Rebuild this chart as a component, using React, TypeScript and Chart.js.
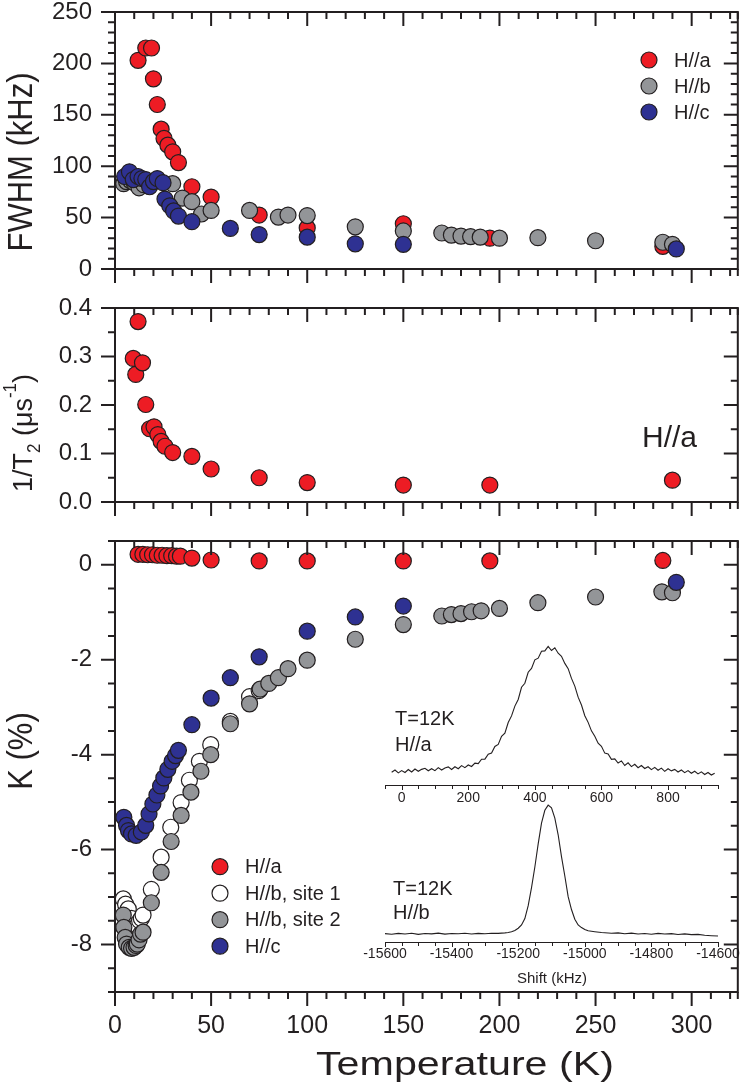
// ============================================
// NMR linewidth / relaxation / Knight shift vs temperature
// ============================================

import React, { useEffect, useRef } from 'react';
import { Chart, registerables } from 'chart.js';

Chart.register(...registerables);

const PAGE_W = 747;
const PAGE_H = 1092;
const Y_AXIS_W = 100;
const X_AXIS_H = 60;
const X_MAX = 324;

const FONT = "'Liberation Sans', Arial, Helvetica, sans-serif";
const INK = '#231F20';
const RED = '#ED1C24';
const GRAY = '#939598';
const BLUE = '#2E3192';
const WHITE = '#FFFFFF';

Chart.defaults.font.family = FONT;
Chart.defaults.color = INK;

// ---------- FWHM (kHz) ----------
const fwhmTempA = [12, 16, 19, 20, 22, 24, 25.5, 27.5, 30, 33, 40, 50, 75, 100, 150, 195, 285];
const fwhmA = [203, 215, 215, 185, 160, 136, 127, 120.5, 114, 103.5, 80, 70, 52.5, 40, 44, 30, 22];

const fwhmTempB = [4.5, 6, 8, 10, 12.5, 15, 30, 35, 40, 45, 50, 70, 85, 90, 100, 125, 150, 170, 175, 180, 185, 190, 200, 220, 250, 285, 290];
const fwhmB = [83, 85, 86, 84, 79, 82, 83, 69, 65.5, 53.5, 57, 57, 50.5, 52.5, 52, 41, 37, 35, 33, 32, 31.5, 31, 30, 30.5, 27.5, 26, 24];

const fwhmTempC = [5, 7.5, 9.5, 12, 14, 16, 18, 20, 22, 25, 26, 28.5, 30.5, 33, 40, 60, 75, 100, 125, 150, 292];
const fwhmC = [90, 94.5, 87, 90, 88, 87, 80, 85, 88, 84, 68, 61.5, 56.5, 51.5, 46, 39.5, 33.5, 31, 24.5, 24, 19.5];

// ---------- 1/T2 (us^-1), H//a ----------
const t2Temp = [9.5, 10.8, 12, 14.3, 16, 18, 20.3, 22.3, 24, 26, 30, 40, 50, 75, 100, 150, 195, 290];
const t2Rate = [0.296, 0.263, 0.372, 0.287, 0.201, 0.151, 0.155, 0.139, 0.125, 0.115, 0.102, 0.094, 0.068, 0.05, 0.04, 0.035, 0.035, 0.045];

// ---------- K (%) ----------
const kTempA = [12, 14.5, 17, 19.5, 22, 24.5, 27, 29.5, 32, 34, 40, 50, 75, 100, 150, 195, 285];
const kA = [0.22, 0.22, 0.21, 0.21, 0.2, 0.2, 0.19, 0.19, 0.18, 0.18, 0.14, 0.1, 0.08, 0.08, 0.08, 0.08, 0.09];

const kTempB1 = [4.3, 5.5, 6.9, 8.5, 10, 11.5, 12.8, 13.7, 14.6, 18.9, 24, 29, 34.4, 38.7, 43.9, 49.8, 60, 70, 75];
const kB1 = [-7.04, -7.15, -7.25, -7.45, -7.6, -7.6, -7.5, -7.45, -7.38, -6.84, -6.16, -5.53, -5.01, -4.54, -4.14, -3.79, -3.3, -2.78, -2.65];

const kTempB2 = [4.3, 4.6, 5.3, 6, 7.4, 8.6, 9.9, 11, 11.6, 12.5, 13.3, 14.6, 18.9, 24, 29.2, 34.4, 39.5, 44.7, 49.8, 60, 70, 75.5, 80, 85, 90, 100, 125, 150, 170, 175, 180, 185.5, 190.5, 200, 220, 250, 284.5, 290];
const kB2 = [-7.38, -7.64, -7.85, -7.99, -8.06, -8.08, -8.06, -8.02, -7.99, -7.9, -7.78, -7.74, -7.12, -6.48, -5.83, -5.28, -4.79, -4.35, -4, -3.35, -2.93, -2.62, -2.5, -2.38, -2.19, -2.01, -1.57, -1.26, -1.08, -1.05, -1.03, -0.99, -0.97, -0.92, -0.8, -0.68, -0.57, -0.59];

const kTempC = [4.6, 6, 7, 8.6, 11, 13.7, 16, 17.7, 19.7, 21.8, 23.7, 25.4, 27.5, 29.7, 31.5, 33, 40, 50, 60, 75, 100, 125, 150, 292];
const kC = [-5.32, -5.49, -5.6, -5.67, -5.7, -5.63, -5.49, -5.25, -5.04, -4.85, -4.66, -4.49, -4.31, -4.14, -4.02, -3.91, -3.37, -2.81, -2.38, -1.94, -1.4, -1.1, -0.87, -0.37];

// ---------- inset spectra, T = 12 K ----------
const specAShift = [
  -30, -20, -10, 0, 10, 20, 30, 40, 50, 60,
  70, 80, 90, 100, 110, 120, 130, 140, 150, 160,
  170, 180, 190, 200, 210, 220, 230, 240, 250, 260,
  270, 280, 290, 300, 310, 320, 330, 340, 350, 360,
  370, 380, 390, 400, 410, 420, 430, 440, 450, 460,
  470, 480, 490, 500, 510, 520, 530, 540, 550, 560,
  570, 580, 590, 600, 610, 620, 630, 640, 650, 660,
  670, 680, 690, 700, 710, 720, 730, 740, 750, 760,
  770, 780, 790, 800, 810, 820, 830, 840, 850, 860,
  870, 880, 890, 900, 910, 920, 930, 940,
];
const specA = [
  -1, 0.8, -1.5, 0.3, -1.2, 1.2, -0.8, 1.6, -0.2, 1.3,
  2.2, 0.2, 1.8, 0.3, 2.7, 0.8, 2.4, 3.3, 1.2, 3.4,
  1.8, 4.3, 2.7, 4.8, 3.6, 6.3, 5.9, 9.4, 9.5, 13.5,
  14.4, 19.6, 21.3, 27.8, 30.2, 38.8, 44.1, 51.9, 57.2, 67,
  70.2, 79, 82.1, 88.9, 90.3, 95.8, 96.1, 99.6, 96.4, 98.6,
  94.2, 91.8, 86.1, 81.9, 74.1, 67.9, 59.1, 52.8, 44.2, 38.9,
  32.1, 27.8, 22.2, 19.8, 14.3, 13.7, 9.3, 9.7, 6.4, 8.1,
  4.4, 6.5, 3.5, 5.4, 2.6, 4.4, 2, 3.4, 1.1, 2.9,
  0.6, 2.3, -0.3, 1.8, 0.1, 1.3, -0.8, 0.8, -1.3, 0.3,
  -1.8, -0.2, -2.3, -0.7, -2.8, -1.2, -3.2, -1.8,
];

const specBShift = [
  -15600, -15580, -15560, -15540, -15520, -15500, -15480, -15460, -15440, -15420,
  -15400, -15380, -15360, -15340, -15320, -15300, -15280, -15260, -15240, -15230,
  -15220, -15210, -15200, -15190, -15180, -15170, -15160, -15150, -15140, -15130,
  -15120, -15110, -15100, -15090, -15080, -15070, -15060, -15050, -15040, -15030,
  -15020, -15010, -15000, -14990, -14970, -14950, -14920, -14900, -14880, -14860,
  -14840, -14820, -14800, -14780, -14760, -14740, -14720, -14700, -14680, -14660,
  -14640, -14620, -14600,
];
const specB = [
  0.3, -0.2, 0.5, 0, 0.6, -0.3, 0.4, 0.1, 0.7, -0.1,
  0.4, 0.2, 0.6, 0, 0.5, 0.2, 0.6, 0.5, 0.9, 1.2,
  1.8, 2.8, 4.5, 7, 12, 22, 36, 52, 70, 86,
  96, 100, 98, 90, 77, 60, 45, 29, 19, 11.5,
  7, 5, 3.5, 2.5, 1.8, 1.2, 0.6, 0.9, 0.2, 0.7,
  0, 0.4, -0.2, 0.5, 0, 0.3, -0.4, 0.1, -0.5, -0.3,
  -1, -1.3, -1.6,
];

// plot areas on the page (px)
const TOP = { left: 115, right: 745, top: 12, bottom: 269 };
const MID = { left: 115, right: 745, top: 308, bottom: 502 };
const BOT = { left: 115, right: 745, top: 541, bottom: 992 };
const INSET_A = { left: 385, right: 718, top: 640, bottom: 785 };
const INSET_B = { left: 385, right: 718, top: 800, bottom: 942 };

const pts = (xs: number[], ys: number[]) => xs.map((x, i) => ({ x, y: ys[i] }));
const isMajor = (v: number, step: number) => Math.abs(v / step - Math.round(v / step)) < 1e-6;

const padFor = (r: any, leftBox: number, bottomBox: number) => ({
  left: r.left - leftBox,
  right: PAGE_W - r.right,
  top: r.top,
  bottom: PAGE_H - r.bottom - bottomBox,
});

// force the axis box size so every panel lines up
const fixBox = (width?: number, height?: number) => (s: any) => {
  if (width !== undefined) s.width = width;
  if (height !== undefined) s.height = height;
  s.paddingTop = 0;
  s.paddingBottom = 0;
  s.paddingLeft = 0;
  s.paddingRight = 0;
};

// ---------- plugins ----------
type Part = { t: string; size: number; dy?: number };
type Label = { x: number; y: number; parts: Part[]; align?: 'left' | 'center'; rotate?: boolean; sx?: number };

function drawLabel(ctx: CanvasRenderingContext2D, l: Label) {
  ctx.save();
  ctx.translate(l.x, l.y);
  ctx.scale(l.sx ?? 1, 1);
  if (l.rotate) ctx.rotate(-Math.PI / 2);
  ctx.fillStyle = INK;
  ctx.textAlign = 'left';
  ctx.textBaseline = 'alphabetic';
  const widths = l.parts.map((p) => {
    ctx.font = `${p.size}px ${FONT}`;
    return ctx.measureText(p.t).width;
  });
  let cx = l.align === 'center' ? -widths.reduce((s, w) => s + w, 0) / 2 : 0;
  l.parts.forEach((p, i) => {
    ctx.font = `${p.size}px ${FONT}`;
    ctx.fillText(p.t, cx, p.dy ?? 0);
    cx += widths[i];
  });
  ctx.restore();
}

const textPlugin = (labels: Label[]) => ({
  id: 'texts',
  afterDraw(chart: any) {
    labels.forEach((l) => drawLabel(chart.ctx, l));
  },
});

const dotLegendPlugin = (x: number, y0: number, gap: number) => ({
  id: 'dotLegend',
  afterDraw(chart: any) {
    const { ctx } = chart;
    ctx.save();
    chart.data.datasets.forEach((ds: any, i: number) => {
      const cy = y0 + i * gap;
      ctx.beginPath();
      ctx.arc(x, cy, ds.pointRadius, 0, Math.PI * 2);
      ctx.fillStyle = ds.backgroundColor;
      ctx.fill();
      ctx.lineWidth = ds.borderWidth;
      ctx.strokeStyle = ds.borderColor;
      ctx.stroke();
      ctx.fillStyle = INK;
      ctx.font = `20px ${FONT}`;
      ctx.textAlign = 'left';
      ctx.textBaseline = 'middle';
      ctx.fillText(ds.label, x + 25, cy + 1);
    });
    ctx.restore();
  },
});

// box frame: ticks out on left/bottom, in on top/right
const framePlugin = (xMajor: number, yMajor: number) => ({
  id: 'frame',
  afterDatasetsDraw(chart: any) {
    const { ctx, chartArea: a } = chart;
    const xs = chart.scales.x;
    const ys = chart.scales.y;
    ctx.save();
    ctx.strokeStyle = INK;
    ctx.lineWidth = 2;
    ctx.beginPath();
    xs.ticks.forEach((t: any) => {
      const px = xs.getPixelForValue(t.value);
      const len = isMajor(t.value, xMajor) ? 14 : 7;
      ctx.moveTo(px, a.bottom);
      ctx.lineTo(px, a.bottom + len);
      ctx.moveTo(px, a.top);
      ctx.lineTo(px, a.top + len);
    });
    ys.ticks.forEach((t: any) => {
      const py = ys.getPixelForValue(t.value);
      const len = isMajor(t.value, yMajor) ? 14 : 7;
      ctx.moveTo(a.left, py);
      ctx.lineTo(a.left - len, py);
      ctx.moveTo(a.right, py);
      ctx.lineTo(a.right - len, py);
    });
    ctx.stroke();
    ctx.strokeRect(a.left, a.top, a.right - a.left, a.bottom - a.top);
    ctx.restore();
  },
});

// inset: only a bottom axis line with small ticks
const baseAxisPlugin = (major: number) => ({
  id: 'baseAxis',
  afterDatasetsDraw(chart: any) {
    const { ctx, chartArea: a } = chart;
    const xs = chart.scales.x;
    ctx.save();
    ctx.strokeStyle = INK;
    ctx.lineWidth = 1;
    ctx.beginPath();
    ctx.moveTo(a.left, a.bottom + 0.5);
    ctx.lineTo(a.right, a.bottom + 0.5);
    xs.ticks.forEach((t: any) => {
      const px = Math.round(xs.getPixelForValue(t.value)) + 0.5;
      ctx.moveTo(px, a.bottom);
      ctx.lineTo(px, a.bottom + (isMajor(t.value, major) ? 5 : 4));
    });
    ctx.stroke();
    ctx.restore();
  },
});

// ---------- config builders ----------
const dots = (label: string, xs: number[], ys: number[], color: string, order: number) => ({
  label,
  data: pts(xs, ys),
  backgroundColor: color,
  borderColor: INK,
  borderWidth: 1.2,
  pointRadius: 8,
  pointHoverRadius: 8,
  order,
  clip: false,
});

const tempAxis = (showLabels: boolean) => ({
  type: 'linear',
  bounds: 'data',
  min: 0,
  max: X_MAX,
  afterFit: fixBox(undefined, X_AXIS_H),
  grid: { display: false, drawTicks: false },
  border: { display: false },
  ticks: {
    display: showLabels,
    stepSize: 10,
    includeBounds: false,
    autoSkip: false,
    maxRotation: 0,
    padding: 19,
    color: INK,
    font: { size: 25 },
    callback: (v: number) => (isMajor(v, 50) ? String(v) : ''),
  },
});

const valueAxis = (min: number, max: number, step: number, major: number, fmt: (v: number) => string) => ({
  type: 'linear',
  bounds: 'data',
  min,
  max,
  afterFit: fixBox(Y_AXIS_W, undefined),
  grid: { display: false, drawTicks: false },
  border: { display: false },
  ticks: {
    stepSize: step,
    includeBounds: false,
    autoSkip: false,
    padding: 23,
    color: INK,
    font: { size: 24 },
    callback: (v: number) => (isMajor(v, major) ? fmt(v) : ''),
  },
});

const panelConfig = (rect: any, datasets: any[], yAxis: any, yMajor: number, showX: boolean, extra: any[]) => ({
  type: 'scatter',
  data: { datasets },
  plugins: [framePlugin(50, yMajor), ...extra],
  options: {
    responsive: false,
    animation: false,
    events: [],
    layout: { padding: padFor(rect, Y_AXIS_W, X_AXIS_H) },
    plugins: { legend: { display: false }, tooltip: { enabled: false } },
    scales: { x: tempAxis(showX), y: yAxis },
  },
});

const insetConfig = (rect: any, xs: number[], ys: number[], xMin: number, xMax: number, yMin: number, yMax: number, labelPad: number, labels: Label[]) => ({
  type: 'scatter',
  data: {
    datasets: [
      { data: pts(xs, ys), showLine: true, borderColor: INK, borderWidth: 1.1, pointRadius: 0, clip: false },
    ],
  },
  plugins: [baseAxisPlugin(200), textPlugin(labels)],
  options: {
    responsive: false,
    animation: false,
    events: [],
    layout: { padding: padFor(rect, 0, 30) },
    plugins: { legend: { display: false }, tooltip: { enabled: false } },
    scales: {
      x: {
        type: 'linear',
        bounds: 'data',
        min: xMin,
        max: xMax,
        afterFit: fixBox(undefined, 30),
        grid: { display: false, drawTicks: false },
        border: { display: false },
        ticks: {
          stepSize: 50,
          includeBounds: false,
          autoSkip: false,
          maxRotation: 0,
          padding: labelPad,
          color: INK,
          font: { size: 14 },
          callback: (v: number) => (isMajor(v, 200) ? String(v) : ''),
        },
      },
      y: { type: 'linear', display: false, min: yMin, max: yMax },
    },
  },
});

const fwhmConfig = () =>
  panelConfig(
    TOP,
    [
      dots('H//a', fwhmTempA, fwhmA, RED, 3),
      dots('H//b', fwhmTempB, fwhmB, GRAY, 2),
      dots('H//c', fwhmTempC, fwhmC, BLUE, 1),
    ],
    valueAxis(0, 250, 10, 50, (v) => String(v)),
    50,
    false,
    [
      dotLegendPlugin(649, 60, 26),
      textPlugin([{ x: 32, y: 162, rotate: true, sx: 1.15, align: 'center', parts: [{ t: 'FWHM (kHz)', size: 31 }] }]),
    ]
  );

const rateConfig = () =>
  panelConfig(
    MID,
    [dots('H//a', t2Temp, t2Rate, RED, 1)],
    valueAxis(0, 0.4, 0.05, 0.1, (v) => v.toFixed(1)),
    0.1,
    false,
    [
      textPlugin([
        { x: 642, y: 447, parts: [{ t: 'H//a', size: 30 }] },
        {
          x: 32,
          y: 433,
          rotate: true,
          sx: 1.05,
          align: 'center',
          parts: [
            { t: '1/T', size: 27 },
            { t: '2', size: 17, dy: 8 },
            { t: ' (μs', size: 27 },
            { t: '-1', size: 17, dy: -15 },
            { t: ')', size: 27 },
          ],
        },
      ]),
    ]
  );

const shiftConfig = () =>
  panelConfig(
    BOT,
    [
      dots('H//a', kTempA, kA, RED, 4),
      dots('H//b, site 1', kTempB1, kB1, WHITE, 3),
      dots('H//b, site 2', kTempB2, kB2, GRAY, 2),
      dots('H//c', kTempC, kC, BLUE, 1),
    ],
    valueAxis(-9, 0.5, 0.5, 2, (v) => String(v)),
    2,
    true,
    [
      dotLegendPlugin(220, 866.7, 26.5),
      textPlugin([
        { x: 32, y: 751, rotate: true, sx: 1.15, align: 'center', parts: [{ t: 'K (%)', size: 31 }] },
        { x: 465, y: 1075, sx: 1.25, align: 'center', parts: [{ t: 'Temperature (K)', size: 33 }] },
      ]),
    ]
  );

const insetAConfig = () =>
  insetConfig(INSET_A, specAShift, specA, -50, 950, -11.2, 104.8, 5, [
    { x: 395, y: 725, parts: [{ t: 'T=12K', size: 20 }] },
    { x: 395, y: 751, parts: [{ t: 'H//a', size: 20 }] },
  ]);

const insetBConfig = () =>
  insetConfig(INSET_B, specBShift, specB, -15600, -14600, -6.2, 104, 4, [
    { x: 393, y: 895, parts: [{ t: 'T=12K', size: 20 }] },
    { x: 393, y: 919, parts: [{ t: 'H//b', size: 20 }] },
    { x: 552, y: 983, align: 'center', parts: [{ t: 'Shift (kHz)', size: 15 }] },
  ]);

// ---------- components ----------
const ChartLayer: React.FC<{ config: () => any }> = ({ config }) => {
  const canvasRef = useRef<HTMLCanvasElement>(null);

  useEffect(() => {
    if (!canvasRef.current) return;
    const chart = new Chart(canvasRef.current, config());
    return () => {
      chart.destroy();
    };
  }, [config]);

  return (
    <canvas
      ref={canvasRef}
      width={PAGE_W}
      height={PAGE_H}
      style={{ position: 'absolute', left: 0, top: 0 }}
    />
  );
};

export default function App() {
  return (
    <div style={{ position: 'absolute', left: 0, top: 0, width: PAGE_W, height: PAGE_H, background: '#fff' }}>
      <ChartLayer config={fwhmConfig} />
      <ChartLayer config={rateConfig} />
      <ChartLayer config={shiftConfig} />
      <ChartLayer config={insetAConfig} />
      <ChartLayer config={insetBConfig} />
    </div>
  );
}
